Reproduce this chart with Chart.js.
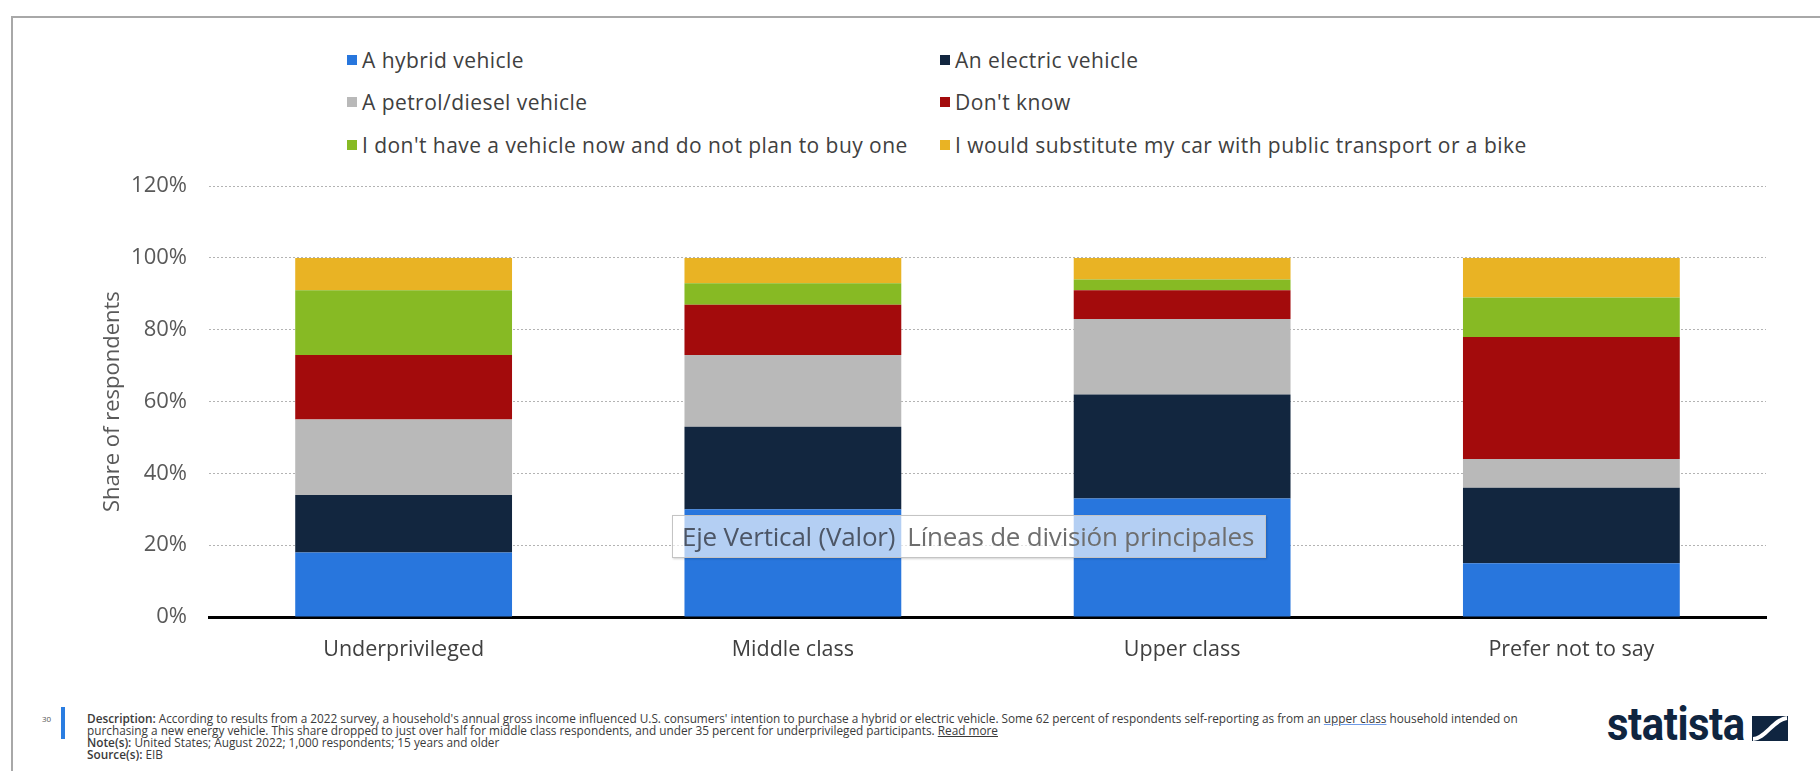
<!DOCTYPE html>
<html>
<head>
<meta charset="utf-8">
<script src="https://cdn.jsdelivr.net/npm/chart.js@4.4.0/dist/chart.umd.min.js"></script>
<style>
  html, body { margin: 0; padding: 0; background: #fff; }
  body { width: 1820px; height: 771px; position: relative; overflow: hidden; font-family: "Open Sans", sans-serif; }
  .frame-top { position: absolute; left: 11px; top: 16px; right: 0; height: 2px; background: #a8a8a8; }
  .frame-left { position: absolute; left: 11px; top: 16px; bottom: 0; width: 2px; background: #a8a8a8; }
  #chart { position: absolute; left: 90px; top: 151px; }
  #legend { position: absolute; left: 347px; top: 39px; display: grid; grid-template-columns: 593px auto; grid-auto-rows: 42.3px; }
  .lg-item { display: flex; align-items: center; gap: 5px; font-size: 21px; letter-spacing: 0.45px; color: #404040; white-space: nowrap; }
  .lg-box { width: 10px; height: 10px; flex: none; }
  .hover-tip { position: absolute; left: 672px; top: 515px; width: 592px; height: 41px; background: rgba(255,255,255,0.65);
    border: 1px solid #c4c4c4; box-shadow: 1px 1px 2px rgba(0,0,0,0.18); font-size: 26px; line-height: 41px; white-space: nowrap; letter-spacing: -0.2px; }
  .hover-tip .t1 { margin-left: 9px; color: #4d5666; }
  .hover-tip .t2 { margin-left: 12px; color: #6e6e6e; }
  .page-no { position: absolute; left: 42px; top: 713px; font-size: 8px; color: #555; }
  .page-bar { position: absolute; left: 61px; top: 707px; width: 4px; height: 32px; background: #2a7de1; }
  .notes { position: absolute; left: 87px; top: 712px; font-size: 11.8px; line-height: 12px; color: #3a3a3a; white-space: nowrap; }
  .notes b { font-weight: 600; }
  .notes .lnk { text-decoration: underline; color: #3a3a3a; }
  .notes .lnk-blue { text-decoration: underline; text-decoration-color: #6f9be8; }
  .brand { position: absolute; left: 1607px; top: 701px; font-family: Roboto, sans-serif; font-weight: 700; font-size: 46px; line-height: 46px;
    color: #0f2540; transform: scaleX(0.91); transform-origin: left top; letter-spacing: -0.5px; }
  .brand-icon { position: absolute; left: 1752px; top: 716px; }
</style>
</head>
<body>
<div class="frame-top"></div>
<div class="frame-left"></div>
<div id="legend"></div>
<canvas id="chart" width="1730" height="529"></canvas>
<div class="hover-tip"><span class="t1">Eje Vertical (Valor)</span><span class="t2">Líneas de división principales</span></div>

<div class="page-no">30</div>
<div class="page-bar"></div>
<div class="notes">
  <div><b>Description:</b> According to results from a 2022 survey, a household's annual gross income influenced U.S. consumers' intention to purchase a hybrid or electric vehicle. Some 62 percent of respondents self-reporting as from an <span class="lnk-blue">upper class</span> household intended on</div>
  <div>purchasing a new energy vehicle. This share dropped to just over half for middle class respondents, and under 35 percent for underprivileged participants. <span class="lnk">Read more</span></div>
  <div><b>Note(s):</b> United States; August 2022; 1,000 respondents; 15 years and older</div>
  <div><b>Source(s):</b> EIB</div>
</div>
<div class="brand">statista</div>
<svg class="brand-icon" width="36" height="25" viewBox="0 0 36 25">
  <rect x="0" y="0" width="36" height="25" fill="#0f2540"/>
  <path d="M1 23 C 13 23, 22 3, 35 2" stroke="#fff" stroke-width="4" fill="none"/>
</svg>

<script>
// ── Data ──────────────────────────────────────────────────────────────────────
const categories = ['Underprivileged', 'Middle class', 'Upper class', 'Prefer not to say'];

const hybrid     = [18, 30, 33, 15];
const electric   = [16, 23, 29, 21];
const petrol     = [21, 20, 21, 8];
const dontKnow   = [18, 14, 8, 34];
const noVehicle  = [18, 6, 3, 11];
const substitute = [9, 7, 6, 11];

const seriesNames = [
  'A hybrid vehicle',
  'An electric vehicle',
  'A petrol/diesel vehicle',
  "Don't know",
  "I don't have a vehicle now and do not plan to buy one",
  'I would substitute my car with public transport or a bike'
];
const seriesValues = [hybrid, electric, petrol, dontKnow, noVehicle, substitute];
const seriesColors = ['#2876dd', '#12263f', '#b9b9b9', '#a30b0c', '#87ba24', '#e9b324'];

const yMin = 0, yMax = 120, yStep = 20;

// ── Helpers ───────────────────────────────────────────────────────────────────
const $ = id => document.getElementById(id);
const FONT = 'Open Sans';

// ── Legend (two columns, same order as the series) ────────────────────────────
function renderLegend() {
  const box = $('legend');
  seriesNames.forEach((name, i) => {
    const item = document.createElement('div');
    item.className = 'lg-item';
    item.innerHTML = '<span class="lg-box" style="background:' + seriesColors[i] + '"></span><span>' + name + '</span>';
    box.appendChild(item);
  });
}

// ── Chart ─────────────────────────────────────────────────────────────────────
function renderChart() {
  const datasets = seriesNames.map((name, i) => ({
    label: name,
    data: seriesValues[i],
    backgroundColor: seriesColors[i],
    borderWidth: 0,
    barPercentage: 0.557,
    categoryPercentage: 1
  }));

  new Chart($('chart').getContext('2d'), {
    type: 'bar',
    data: { labels: categories, datasets },
    options: {
      responsive: false,
      animation: false,
      layout: { padding: { top: 0, right: 54, bottom: 0, left: 0 } },
      plugins: { legend: { display: false }, tooltip: { enabled: false } },
      scales: {
        x: {
          stacked: true,
          grid: { display: false, drawTicks: false },
          border: { display: true, color: '#000', width: 3 },
          ticks: { color: '#404040', font: { family: FONT, size: 21.5 }, padding: 20 },
          afterFit: s => { s.height = 63; }
        },
        y: {
          stacked: true,
          min: yMin, max: yMax,
          grid: { color: '#b3b3b3', lineWidth: 1, drawTicks: false },
          border: { display: false, dash: [2, 2] },
          ticks: { stepSize: yStep, color: '#595959', font: { family: FONT, size: 22 }, padding: 22, callback: v => v + '%' },
          title: { display: true, text: 'Share of respondents', color: '#595959', font: { family: FONT, size: 22 }, padding: { top: 10, bottom: 0 } },
          afterFit: s => { s.width = 119; }
        }
      }
    }
  });
}

renderLegend();
renderChart();
</script>
</body>
</html>
